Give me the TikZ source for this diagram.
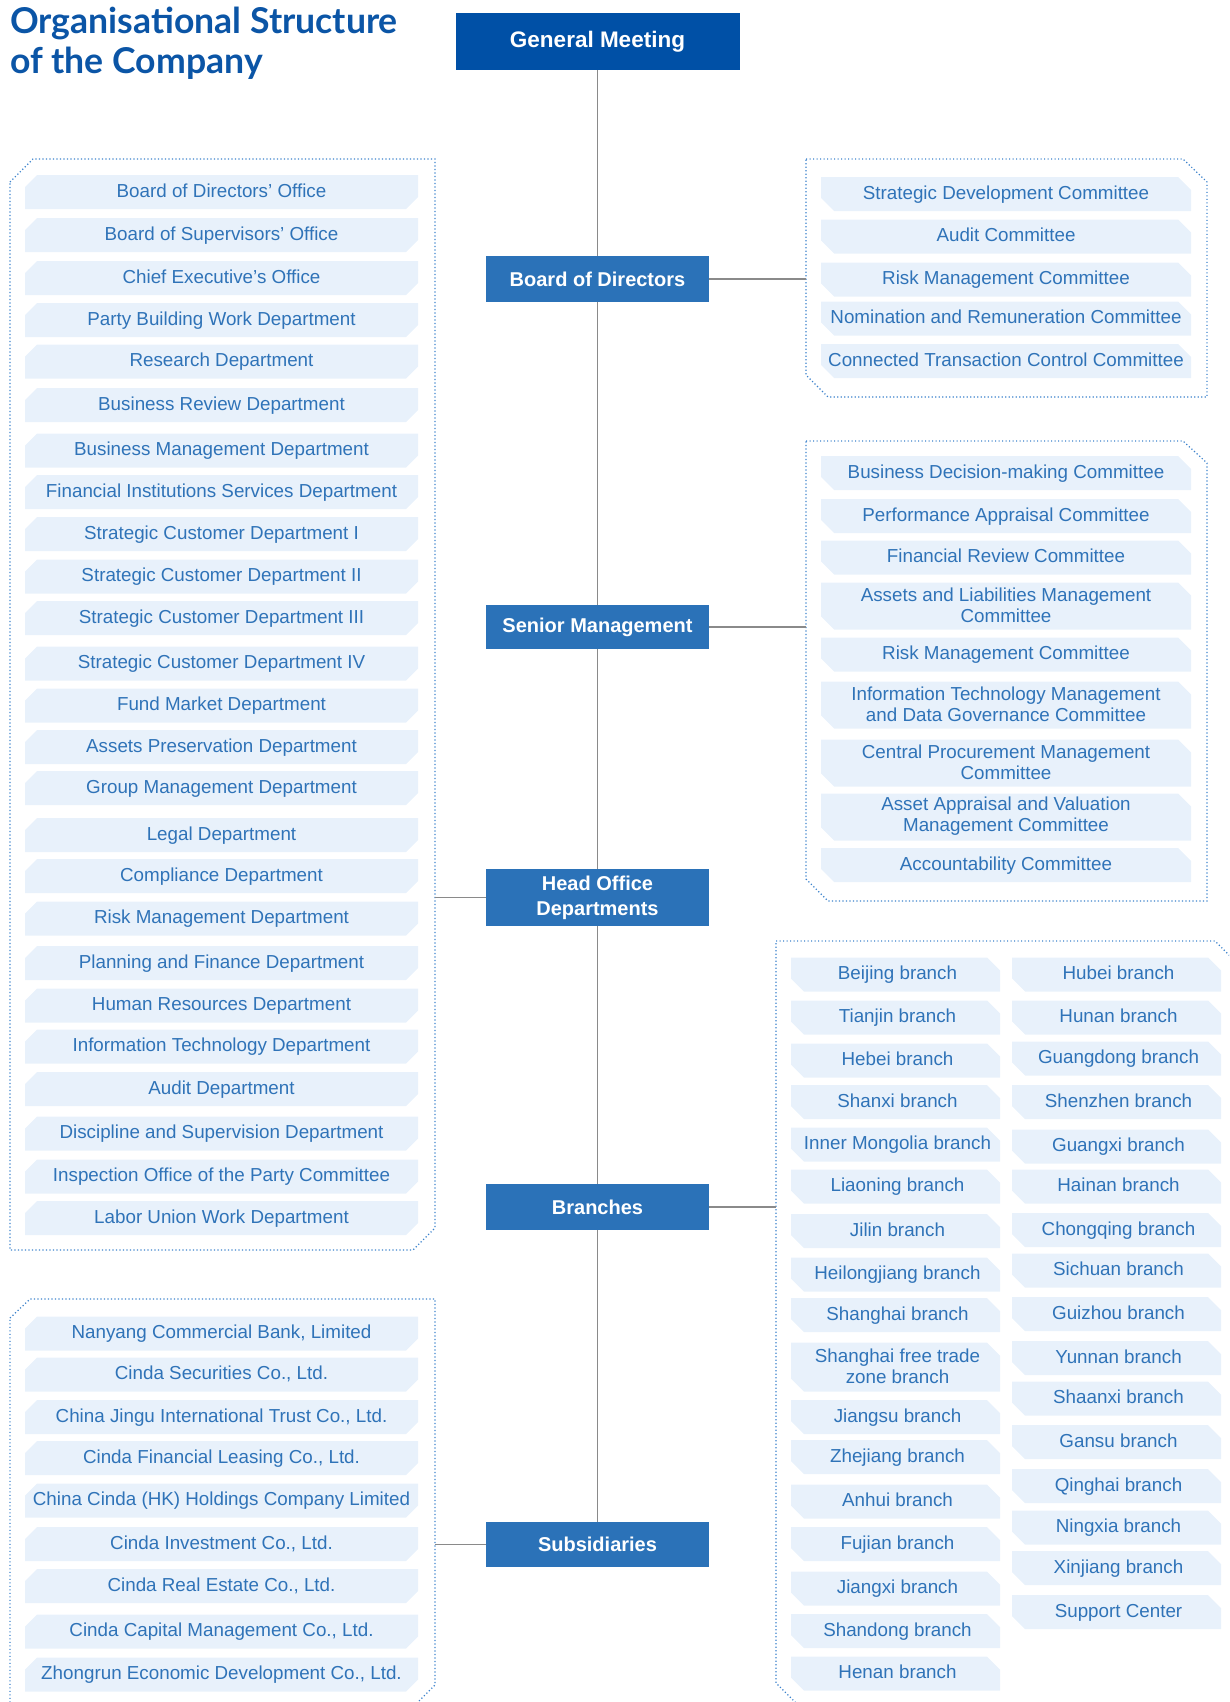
\documentclass[tikz,border=0pt]{standalone}
\usepackage{fontspec}
\setmainfont{Liberation Sans}
\newfontfamily\titlefont{Lato}
\definecolor{gmblue}{HTML}{0050A6}
\definecolor{mainblue}{HTML}{2B72B8}
\definecolor{itemfill}{HTML}{E8F1FB}
\definecolor{itemtxtcol}{HTML}{2F73B8}
\definecolor{framecol}{HTML}{3C82CC}
\definecolor{linecol}{HTML}{8A8A8A}
\definecolor{titlecol}{HTML}{0B55A6}
\tikzset{
  mainbox/.style={fill=mainblue, text=white, font=\bfseries\fontsize{20}{25}\selectfont, align=center, inner sep=0pt, minimum width=223pt},
  itemtext/.style={text=itemtxtcol, font=\fontsize{18.8}{21}\selectfont, inner sep=0pt},
  oneline/.style={text height=13.5pt, text depth=0pt, yshift=1.3pt},
  twoline/.style={align=center, yshift=0.8pt},
  brshift/.style={xshift=2pt},
  dotframe/.style={draw=framecol, line width=1.2pt, dash pattern=on 1.2pt off 2.3pt},
  conn/.style={draw=linecol, line width=1.6pt},
  titletext/.style={anchor=base west, inner sep=0pt, text=titlecol, font=\titlefont\bfseries\fontsize{35.6}{42}\selectfont},
}
% TL and BR corners cut
\newcommand\chamA[7]{%
  \fill[itemfill] ({#2-#4/2},{#3-#5/2+12}) -- ({#2-#4/2+12},{#3-#5/2}) -- ({#2+#4/2},{#3-#5/2}) -- ({#2+#4/2},{#3+#5/2-12}) -- ({#2+#4/2-12},{#3+#5/2}) -- ({#2-#4/2},{#3+#5/2}) -- cycle;
  \node[itemtext,#6] (#1) at (#2,#3) {#7};}
% BL and TR corners cut
\newcommand\chamB[7]{%
  \fill[itemfill] ({#2-#4/2},{#3-#5/2}) -- ({#2+#4/2-13},{#3-#5/2}) -- ({#2+#4/2},{#3-#5/2+13}) -- ({#2+#4/2},{#3+#5/2}) -- ({#2-#4/2+13},{#3+#5/2}) -- ({#2-#4/2},{#3+#5/2-13}) -- cycle;
  \node[itemtext,#6] (#1) at (#2,#3) {#7};}
\begin{document}
\begin{tikzpicture}[x=1pt,y=-1pt]
\useasboundingbox (0,0) rectangle (1229,1702);
\clip (0,0) rectangle (1229,1702);

% title
\node[titletext] (t1) at (10,34) {Organisational Structure};
\node[titletext] (t2) at (10,74) {of the Company};

% frames
\draw[dotframe] (10,182) -- (33,159) -- (435,159) -- (435,1228) -- (413,1250) -- (10,1250) -- cycle;
\draw[dotframe] (10,1318) -- (30,1299) -- (435,1299) -- (435,1685) -- (416,1704) -- (10,1704) -- cycle;
\draw[dotframe] (806,159) -- (1183,159) -- (1207,182) -- (1207,397) -- (828,397) -- (806,375) -- cycle;
\draw[dotframe] (806,441) -- (1183,441) -- (1207,463) -- (1207,901) -- (828,901) -- (806,879) -- cycle;
\draw[dotframe] (776,941) -- (1215,941) -- (1237,963) -- (1237,1710) -- (797,1704) -- (776,1683) -- cycle;

% main boxes
\node[fill=gmblue, text=white, font=\bfseries\fontsize{22.5}{27}\selectfont, minimum width=284pt, minimum height=57pt, inner sep=0pt] (gm) at (597.5,41.5) {General Meeting};
\node[mainbox, minimum height=46pt] (bod) at (597.5,279) {Board of Directors};
\node[mainbox, minimum height=44pt] (sm) at (597.5,627) {Senior Management};
\node[mainbox, minimum height=57pt] (ho) at (597.5,897.5) {Head Office\\Departments};
\node[mainbox, minimum height=46pt] (br) at (597.5,1207) {Branches};
\node[mainbox, minimum height=45pt] (sub) at (597.5,1544.5) {Subsidiaries};

% connectors
\coordinate (f1w) at (806,279);
\coordinate (f2w) at (806,627);
\coordinate (fle) at (435,897.5);
\coordinate (fbw) at (776,1207);
\coordinate (fse) at (435,1544.5);
\draw[conn] (gm.south) -- (bod.north);
\draw[conn] (bod.south) -- (sm.north);
\draw[conn] (sm.south) -- (ho.north);
\draw[conn] (ho.south) -- (br.north);
\draw[conn] (br.south) -- (sub.north);
\draw[conn] (bod.east) -- (f1w);
\draw[conn] (sm.east) -- (f2w);
\draw[conn] (ho.west) -- (fle);
\draw[conn] (br.east) -- (fbw);
\draw[conn] (sub.west) -- (fse);

% head office departments
\chamA{d1}{221.5}{192}{393}{34}{oneline}{Board of Directors’ Office}
\chamA{d2}{221.5}{235}{393}{34}{oneline}{Board of Supervisors’ Office}
\chamA{d3}{221.5}{278}{393}{34}{oneline}{Chief Executive’s Office}
\chamA{d4}{221.5}{320}{393}{34}{oneline}{Party Building Work Department}
\chamA{d5}{221.5}{361.5}{393}{34}{oneline}{Research Department}
\chamA{d6}{221.5}{405}{393}{34}{oneline}{Business Review Department}
\chamA{d7}{221.5}{450.5}{393}{34}{oneline}{Business Management Department}
\chamA{d8}{221.5}{492}{393}{34}{oneline}{Financial Institutions Services Department}
\chamA{d9}{221.5}{534}{393}{34}{oneline}{Strategic Customer Department I}
\chamA{d10}{221.5}{576.5}{393}{34}{oneline}{Strategic Customer Department II}
\chamA{d11}{221.5}{618}{393}{34}{oneline}{Strategic Customer Department III}
\chamA{d12}{221.5}{663.5}{393}{34}{oneline}{Strategic Customer Department IV}
\chamA{d13}{221.5}{705.5}{393}{34}{oneline}{Fund Market Department}
\chamA{d14}{221.5}{747}{393}{34}{oneline}{Assets Preservation Department}
\chamA{d15}{221.5}{788}{393}{34}{oneline}{Group Management Department}
\chamA{d16}{221.5}{835}{393}{34}{oneline}{Legal Department}
\chamA{d17}{221.5}{876}{393}{34}{oneline}{Compliance Department}
\chamA{d18}{221.5}{918.5}{393}{34}{oneline}{Risk Management Department}
\chamA{d19}{221.5}{963}{393}{34}{oneline}{Planning and Finance Department}
\chamA{d20}{221.5}{1005.5}{393}{34}{oneline}{Human Resources Department}
\chamA{d21}{221.5}{1046.5}{393}{34}{oneline}{Information Technology Department}
\chamA{d22}{221.5}{1089}{393}{34}{oneline}{Audit Department}
\chamA{d23}{221.5}{1133.5}{393}{34}{oneline}{Discipline and Supervision Department}
\chamA{d24}{221.5}{1176.5}{393}{34}{oneline}{Inspection Office of the Party Committee}
\chamA{d25}{221.5}{1218}{393}{34}{oneline}{Labor Union Work Department}

% subsidiaries
\chamA{s1}{221.5}{1333.5}{393}{34}{oneline}{Nanyang Commercial Bank, Limited}
\chamA{s2}{221.5}{1374.5}{393}{34}{oneline}{Cinda Securities Co., Ltd.}
\chamA{s3}{221.5}{1417}{393}{34}{oneline}{China Jingu International Trust Co., Ltd.}
\chamA{s4}{221.5}{1458}{393}{34}{oneline}{Cinda Financial Leasing Co., Ltd.}
\chamA{s5}{221.5}{1500.5}{393}{34}{oneline}{China Cinda (HK) Holdings Company Limited}
\chamA{s6}{221.5}{1544}{393}{34}{oneline}{Cinda Investment Co., Ltd.}
\chamA{s7}{221.5}{1586}{393}{34}{oneline}{Cinda Real Estate Co., Ltd.}
\chamA{s8}{221.5}{1631.5}{393}{34}{oneline}{Cinda Capital Management Co., Ltd.}
\chamA{s9}{221.5}{1674.5}{393}{34}{oneline}{Zhongrun Economic Development Co., Ltd.}

% board committees
\chamB{c1}{1006}{194}{370}{34}{oneline}{Strategic Development Committee}
\chamB{c2}{1006}{236.5}{370}{34}{oneline}{Audit Committee}
\chamB{c3}{1006}{279.5}{370}{34}{oneline}{Risk Management Committee}
\chamB{c4}{1006}{318.5}{370}{34}{oneline}{Nomination and Remuneration Committee}
\chamB{c5}{1006}{361}{370}{34}{oneline}{Connected Transaction Control Committee}

% senior management committees
\chamB{m1}{1006}{473}{370}{34}{oneline}{Business Decision-making Committee}
\chamB{m2}{1006}{516}{370}{34}{oneline}{Performance Appraisal Committee}
\chamB{m3}{1006}{557.5}{370}{34}{oneline}{Financial Review Committee}
\chamB{m4}{1006}{606}{370}{47}{twoline}{Assets and Liabilities Management\\Committee}
\chamB{m5}{1006}{654.5}{370}{34}{oneline}{Risk Management Committee}
\chamB{m6}{1006}{705}{370}{47}{twoline}{Information Technology Management\\and Data Governance Committee}
\chamB{m7}{1006}{763}{370}{47}{twoline}{Central Procurement Management\\Committee}
\chamB{m8}{1006}{817}{370}{47}{twoline}{Asset Appraisal and Valuation\\Management Committee}
\chamB{m9}{1006}{865}{370}{34}{oneline}{Accountability Committee}

% branches left column
\chamB{b1}{895.5}{974.5}{209}{34}{oneline,brshift}{Beijing branch}
\chamB{b2}{895.5}{1017.5}{209}{34}{oneline,brshift}{Tianjin branch}
\chamB{b3}{895.5}{1060.5}{209}{34}{oneline,brshift}{Hebei branch}
\chamB{b4}{895.5}{1102}{209}{34}{oneline,brshift}{Shanxi branch}
\chamB{b5}{895.5}{1144.5}{209}{34}{oneline,brshift}{Inner Mongolia branch}
\chamB{b6}{895.5}{1186.5}{209}{34}{oneline,brshift}{Liaoning branch}
\chamB{b7}{895.5}{1231}{209}{34}{oneline,brshift}{Jilin branch}
\chamB{b8}{895.5}{1274.5}{209}{34}{oneline,brshift}{Heilongjiang branch}
\chamB{b9}{895.5}{1315}{209}{34}{oneline,brshift}{Shanghai branch}
\chamB{b10}{895.5}{1367}{209}{49}{twoline,brshift}{Shanghai free trade\\zone branch}
\chamB{b11}{895.5}{1417}{209}{34}{oneline,brshift}{Jiangsu branch}
\chamB{b12}{895.5}{1457}{209}{34}{oneline,brshift}{Zhejiang branch}
\chamB{b13}{895.5}{1501.5}{209}{34}{oneline,brshift}{Anhui branch}
\chamB{b14}{895.5}{1544}{209}{34}{oneline,brshift}{Fujian branch}
\chamB{b15}{895.5}{1588.5}{209}{34}{oneline,brshift}{Jiangxi branch}
\chamB{b16}{895.5}{1631}{209}{34}{oneline,brshift}{Shandong branch}
\chamB{b17}{895.5}{1673.5}{209}{34}{oneline,brshift}{Henan branch}

% branches right column
\chamB{r1}{1116.5}{974.5}{209}{34}{oneline,brshift}{Hubei branch}
\chamB{r2}{1116.5}{1017.5}{209}{34}{oneline,brshift}{Hunan branch}
\chamB{r3}{1116.5}{1058.5}{209}{34}{oneline,brshift}{Guangdong branch}
\chamB{r4}{1116.5}{1102}{209}{34}{oneline,brshift}{Shenzhen branch}
\chamB{r5}{1116.5}{1146.5}{209}{34}{oneline,brshift}{Guangxi branch}
\chamB{r6}{1116.5}{1186.5}{209}{34}{oneline,brshift}{Hainan branch}
\chamB{r7}{1116.5}{1230}{209}{34}{oneline,brshift}{Chongqing branch}
\chamB{r8}{1116.5}{1270.5}{209}{34}{oneline,brshift}{Sichuan branch}
\chamB{r9}{1116.5}{1314}{209}{34}{oneline,brshift}{Guizhou branch}
\chamB{r10}{1116.5}{1358}{209}{34}{oneline,brshift}{Yunnan branch}
\chamB{r11}{1116.5}{1398.5}{209}{34}{oneline,brshift}{Shaanxi branch}
\chamB{r12}{1116.5}{1442}{209}{34}{oneline,brshift}{Gansu branch}
\chamB{r13}{1116.5}{1486}{209}{34}{oneline,brshift}{Qinghai branch}
\chamB{r14}{1116.5}{1527.5}{209}{34}{oneline,brshift}{Ningxia branch}
\chamB{r15}{1116.5}{1568}{209}{34}{oneline,brshift}{Xinjiang branch}
\chamB{r16}{1116.5}{1612}{209}{34}{oneline,brshift}{Support Center}
\end{tikzpicture}
\end{document}
